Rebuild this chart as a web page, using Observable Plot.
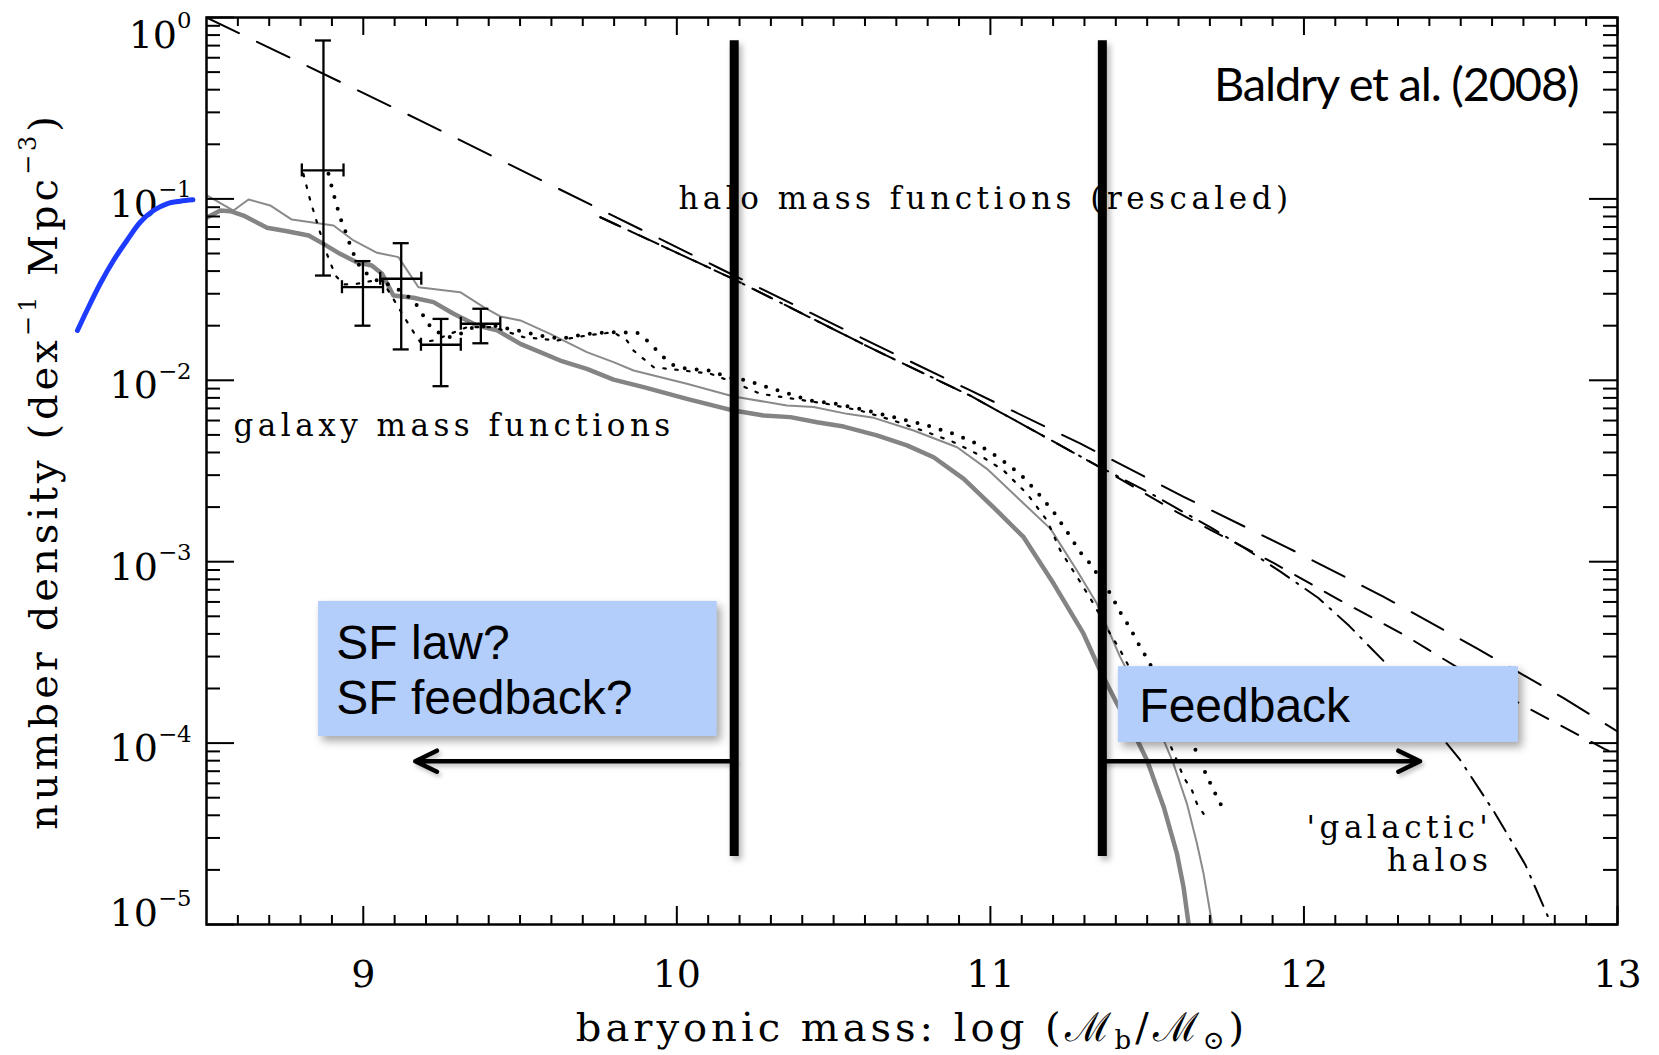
<!DOCTYPE html>
<html>
<head>
<meta charset="utf-8">
<script src="https://cdn.jsdelivr.net/npm/d3@7"></script>
<script src="https://cdn.jsdelivr.net/npm/@observablehq/plot@0.6"></script>
<style>
  html, body { margin: 0; padding: 0; background: #fff; }
  #chart { width: 1659px; height: 1055px; }
</style>
</head>
<body>
<div id="chart"></div>
<script>
// ---------- axes ----------
const xMajorTicks = [9, 10, 11, 12, 13];
const xMinorTicks = d3.range(86, 130).filter(v => v % 10 !== 0).map(v => v / 10);
const yMajorTicks = [1, 1e-1, 1e-2, 1e-3, 1e-4, 1e-5];
const yMinorTicks = [-5, -4, -3, -2, -1].flatMap(e => [2, 3, 4, 5, 6, 7, 8, 9].map(k => k * 10 ** e));
const xTitle = "baryonic mass: log (ℳ_{b}/ℳ_{⊙})";
const yTitle = "number density (dex^{−1} Mpc^{−3})";

// ---------- galaxy mass functions (log M, log phi) ----------
const thickLogM = [8.500, 8.544, 8.576, 8.618, 8.693, 8.757, 8.826, 8.873, 8.926, 8.979, 9.027, 9.060, 9.096, 9.160, 9.224, 9.288, 9.363, 9.427, 9.501, 9.628, 9.713, 9.798, 9.894, 10.032, 10.181, 10.277, 10.362, 10.447, 10.532, 10.638, 10.734, 10.819, 10.915, 11.010, 11.106, 11.202, 11.297, 11.350, 11.397, 11.470, 11.500, 11.553, 11.595, 11.616, 11.632];
const thickLogPhi = [-1.104, -1.064, -1.068, -1.092, -1.159, -1.178, -1.202, -1.248, -1.303, -1.349, -1.367, -1.413, -1.533, -1.545, -1.569, -1.633, -1.698, -1.725, -1.799, -1.891, -1.937, -1.996, -2.038, -2.102, -2.167, -2.194, -2.203, -2.231, -2.255, -2.304, -2.359, -2.424, -2.543, -2.700, -2.865, -3.122, -3.397, -3.600, -3.760, -3.990, -4.096, -4.353, -4.610, -4.794, -4.996];

const thinLogM = [8.501, 8.586, 8.634, 8.703, 8.772, 8.905, 8.969, 9.044, 9.112, 9.176, 9.309, 9.384, 9.437, 9.501, 9.596, 9.713, 9.798, 9.862, 10.032, 10.181, 10.351, 10.436, 10.543, 10.628, 10.755, 10.894, 10.989, 11.096, 11.192, 11.276, 11.340, 11.414, 11.557, 11.584, 11.627, 11.659, 11.680, 11.707];
const thinLogPhi = [-0.981, -1.064, -1.003, -1.036, -1.114, -1.147, -1.229, -1.297, -1.321, -1.487, -1.514, -1.597, -1.648, -1.670, -1.744, -1.845, -1.900, -1.946, -2.019, -2.089, -2.139, -2.147, -2.185, -2.207, -2.277, -2.369, -2.488, -2.663, -2.819, -3.049, -3.232, -3.526, -4.001, -4.114, -4.335, -4.555, -4.721, -4.996];

const bigDotLogM = [8.889, 8.905, 8.926, 8.942, 8.964, 8.990, 9.017, 9.044, 9.075, 9.118, 9.160, 9.182, 9.203, 9.224, 9.277, 9.309, 9.352, 9.415, 9.490, 9.564, 9.628, 9.713, 9.788, 9.873, 9.905, 9.931, 9.958, 9.990, 10.032, 10.107, 10.160, 10.224, 10.266, 10.341, 10.426, 10.511, 10.607, 10.691, 10.798, 10.883, 10.957, 11.032, 11.096, 11.149, 11.202, 11.245, 11.287, 11.319, 11.383, 11.420, 11.441, 11.478, 11.500, 11.648, 11.680, 11.712, 11.750];
const bigDotLogPhi = [-0.862, -0.972, -1.101, -1.174, -1.284, -1.377, -1.422, -1.450, -1.468, -1.505, -1.560, -1.615, -1.680, -1.725, -1.762, -1.744, -1.707, -1.698, -1.725, -1.753, -1.771, -1.744, -1.735, -1.737, -1.781, -1.826, -1.873, -1.918, -1.937, -1.946, -1.983, -2.001, -2.026, -2.066, -2.111, -2.130, -2.167, -2.203, -2.249, -2.295, -2.350, -2.433, -2.519, -2.616, -2.726, -2.836, -2.948, -3.012, -3.177, -3.297, -3.352, -3.471, -3.535, -4.013, -4.142, -4.261, -4.390];

const smallDotLogM = [8.809, 8.831, 8.857, 8.884, 8.911, 8.937, 8.980, 9.033, 9.059, 9.086, 9.118, 9.150, 9.182, 9.224, 9.277, 9.331, 9.415, 9.511, 9.618, 9.713, 9.798, 9.841, 9.862, 9.894, 9.926, 10.001, 10.107, 10.181, 10.266, 10.372, 10.479, 10.585, 10.691, 10.798, 10.883, 10.968, 11.042, 11.117, 11.181, 11.223, 11.287, 11.329, 11.388, 11.409, 11.574, 11.595, 11.616, 11.643, 11.659, 11.680];
const smallDotLogPhi = [-0.862, -1.009, -1.156, -1.303, -1.422, -1.472, -1.468, -1.450, -1.450, -1.523, -1.615, -1.707, -1.790, -1.781, -1.744, -1.707, -1.707, -1.762, -1.781, -1.753, -1.735, -1.781, -1.836, -1.882, -1.928, -1.942, -1.964, -2.011, -2.074, -2.102, -2.130, -2.167, -2.222, -2.286, -2.341, -2.415, -2.497, -2.626, -2.773, -2.938, -3.113, -3.232, -3.416, -3.471, -4.013, -4.096, -4.188, -4.261, -4.335, -4.390];

// ---------- data points with error bars ----------
const errLogM = [8.873, 8.999, 9.121, 9.248, 9.375];
const errLogMLo = [8.804, 8.932, 9.054, 9.184, 9.311];
const errLogMHi = [8.937, 9.063, 9.185, 9.311, 9.437];
const errPhi = [0.1435, 0.0326, 0.0363, 0.0157, 0.0205];
const errPhiLo = [0.0378, 0.0200, 0.0148, 0.00928, 0.0160];
const errPhiHi = [0.747, 0.0454, 0.0570, 0.0218, 0.0248];

// ---------- halo mass functions (rescaled) ----------
const haloALogM = [8.5, 9.182, 10.139, 10.628, 10.936, 11.286, 11.615, 11.947, 12.253, 12.553, 12.827, 13.0];
const haloALogPhi = [0, -0.568, -1.385, -1.799, -2.056, -2.348, -2.641, -2.922, -3.192, -3.479, -3.751, -3.936];
const haloBLogM = [9.756, 10.183, 10.628, 10.936, 11.340, 11.595, 11.903, 12.112, 12.320, 12.530, 12.717, 12.958, 13.0];
const haloBLogPhi = [-1.101, -1.444, -1.830, -2.085, -2.470, -2.727, -3.007, -3.210, -3.404, -3.626, -3.809, -4.032, -4.063];
const haloCLogM = [9.756, 10.183, 10.628, 10.936, 11.340, 11.507, 11.705, 11.815, 11.925, 12.046, 12.145, 12.255, 12.387, 12.497, 12.607, 12.706, 12.794];
const haloCLogPhi = [-1.101, -1.444, -1.830, -2.085, -2.470, -2.620, -2.814, -2.929, -3.055, -3.200, -3.355, -3.549, -3.858, -4.090, -4.380, -4.670, -5.019];

// ---------- blue extension curve (left of the frame) ----------
const blueLogM = [8.0885, 8.1185, 8.1609, 8.2033, 8.2461, 8.2885, 8.3309, 8.3737, 8.4161, 8.4566];
const blueLogPhi = [-1.7255, -1.6152, -1.468, -1.3396, -1.2293, -1.1285, -1.0639, -1.027, -1.0127, -1.005];

// ---------- annotations ----------
const vlineLogM = [10.183, 11.357];
const vlineTop = [0.745, 0.745];
const vlineBottom = [2.37e-5, 2.37e-5];
const arrowFrom = [10.183, 11.357];
const arrowTo = [9.166, 12.37];
const arrowPhi = [7.95e-5, 7.95e-5];
const boxX1 = [8.857, 11.408];
const boxX2 = [10.129, 12.684];
const boxTop = [6.04e-4, 2.64e-4];
const boxBottom = [1.087e-4, 1.008e-4];
const boxText = ["SF law?\nSF feedback?", "Feedback"];
const boxTextX = [8.914, 11.475];
const boxTextPhi = [1.438e-4, 1.30e-4];
const labelText = ["halo mass functions (rescaled)", "galaxy mass functions"];
const labelX = [10.005, 8.586];
const labelPhi = [0.0885, 0.00496];
const halosText = ["'galactic'\nhalos"];
const halosX = [12.601];
const halosPhi = [1.96e-5];
const refText = ["Baldry et al. (2008)"];
const refX = [12.875];
const refPhi = [0.3486];

// ---------- build tables ----------
const series = (ms, ls) => ms.map((m, i) => ({m, phi: 10 ** ls[i]}));
const thick = series(thickLogM, thickLogPhi);
const thin = series(thinLogM, thinLogPhi);
const bigDot = series(bigDotLogM, bigDotLogPhi);
const smallDot = series(smallDotLogM, smallDotLogPhi);
const haloA = series(haloALogM, haloALogPhi);
const haloB = series(haloBLogM, haloBLogPhi);
const haloC = series(haloCLogM, haloCLogPhi);
const blue = series(blueLogM, blueLogPhi);
const errs = errLogM.map((m, i) => ({m, lo: errLogMLo[i], hi: errLogMHi[i], phi: errPhi[i], plo: errPhiLo[i], phi2: errPhiHi[i]}));
const vlines = vlineLogM.map((m, i) => ({m, y1: vlineBottom[i], y2: vlineTop[i]}));
const arrows = arrowFrom.map((m, i) => ({x1: m, x2: arrowTo[i], y: arrowPhi[i]}));
const boxes = boxX1.map((x1, i) => ({x1, x2: boxX2[i], y1: boxBottom[i], y2: boxTop[i]}));
const boxLabels = boxText.map((t, i) => ({t, x: boxTextX[i], y: boxTextPhi[i]}));
const labels = labelText.map((t, i) => ({t, x: labelX[i], y: labelPhi[i]}));
const halosLab = halosText.map((t, i) => ({t, x: halosX[i], y: halosPhi[i]}));
const refLab = refText.map((t, i) => ({t, x: refX[i], y: refPhi[i]}));

const W = 1659, H = 1055;
const M = {top: 17, right: 42, bottom: 131, left: 206};
const frameW = W - M.left - M.right;
const frameH = H - M.top - M.bottom;
const SERIF = "DejaVu Serif";
const SANS = "Liberation Sans";
const expFmt = d => {
  const e = Math.round(Math.log10(d));
  return "10^{" + (e < 0 ? "−" + (-e) : String(e)) + "}";
};
const yAxisOpts = {anchor: "left", tickSize: 0, tickPadding: 15, fontSize: 38, fontFamily: SERIF, label: null, tickFormat: expFmt};

const plot = Plot.plot({
  width: W, height: H,
  marginTop: M.top, marginRight: M.right, marginBottom: M.bottom, marginLeft: M.left,
  x: {domain: [8.5, 13]},
  y: {type: "log", domain: [1e-5, 1]},
  style: {background: "white", color: "black"},
  marks: [
    // halo mass functions
    Plot.line(haloA, {x: "m", y: "phi", stroke: "black", strokeWidth: 2, strokeDasharray: "36 20", clip: true}),
    Plot.line(haloB, {x: "m", y: "phi", stroke: "black", strokeWidth: 2, strokeDasharray: "19 15", clip: true}),
    Plot.line(haloC, {x: "m", y: "phi", stroke: "black", strokeWidth: 2, strokeDasharray: "22 9 2 9", clip: true}),
    // galaxy mass functions
    Plot.line(thin, {x: "m", y: "phi", stroke: "#8a8a8a", strokeWidth: 2, strokeLinejoin: "round", clip: true}),
    Plot.line(thick, {x: "m", y: "phi", stroke: "#848484", strokeWidth: 4.5, strokeLinejoin: "round", clip: true}),
    Plot.line(smallDot, {x: "m", y: "phi", stroke: "black", strokeWidth: 2.2, strokeDasharray: "2.5 9.5", clip: true}),
    Plot.line(bigDot, {x: "m", y: "phi", stroke: "black", strokeWidth: 4, strokeDasharray: "0 12", strokeLinecap: "round", clip: true}),
    // error bars
    Plot.ruleX(errs, {x: "m", y1: "plo", y2: "phi2", stroke: "black", strokeWidth: 2.3}),
    Plot.ruleY(errs, {y: "phi", x1: "lo", x2: "hi", stroke: "black", strokeWidth: 2.3}),
    Plot.ruleY(errs, {y: "plo", x1: "m", x2: "m", insetLeft: -8, insetRight: -8, stroke: "black", strokeWidth: 2.3}),
    Plot.ruleY(errs, {y: "phi2", x1: "m", x2: "m", insetLeft: -8, insetRight: -8, stroke: "black", strokeWidth: 2.3}),
    Plot.ruleX(errs, {x: "lo", y1: "phi", y2: "phi", insetTop: -6.5, insetBottom: -6.5, stroke: "black", strokeWidth: 2.3}),
    Plot.ruleX(errs, {x: "hi", y1: "phi", y2: "phi", insetTop: -6.5, insetBottom: -6.5, stroke: "black", strokeWidth: 2.3}),
    // frame & inward ticks
    Plot.frame({stroke: "black", strokeWidth: 2.5}),
    Plot.ruleX(xMajorTicks, {x: d => d, insetTop: frameH - 18, stroke: "black", strokeWidth: 2}),
    Plot.ruleX(xMinorTicks, {x: d => d, insetTop: frameH - 9, stroke: "black", strokeWidth: 2}),
    Plot.ruleX(xMajorTicks, {x: d => d, insetBottom: frameH - 18, stroke: "black", strokeWidth: 2}),
    Plot.ruleX(xMinorTicks, {x: d => d, insetBottom: frameH - 9, stroke: "black", strokeWidth: 2}),
    Plot.ruleY(yMajorTicks, {y: d => d, insetRight: frameW - 28, stroke: "black", strokeWidth: 2}),
    Plot.ruleY(yMinorTicks, {y: d => d, insetRight: frameW - 14, stroke: "black", strokeWidth: 2}),
    Plot.ruleY(yMajorTicks, {y: d => d, insetLeft: frameW - 28, stroke: "black", strokeWidth: 2}),
    Plot.ruleY(yMinorTicks, {y: d => d, insetLeft: frameW - 14, stroke: "black", strokeWidth: 2}),
    // tick labels
    Plot.axisX(xMajorTicks, {anchor: "bottom", tickSize: 0, tickPadding: 36, fontSize: 38, fontFamily: SERIF, label: null, tickFormat: d => String(d)}),
    Plot.axisY(yMajorTicks.slice(1, 5), {...yAxisOpts, dy: 6}),
    Plot.axisY([1], {...yAxisOpts, dy: 18}),
    Plot.axisY([1e-5], {...yAxisOpts, dy: -11}),
    // axis titles
    Plot.text([xTitle], {text: d => d, frameAnchor: "bottom", dy: 116, lineAnchor: "bottom", textAnchor: "middle", fontSize: 40, fontFamily: SERIF, ariaDescription: "axis-title"}),
    Plot.text([yTitle], {text: d => d, frameAnchor: "left", dx: -150, rotate: -90, lineAnchor: "bottom", textAnchor: "middle", fontSize: 40, fontFamily: SERIF, ariaDescription: "axis-title"}),
    // in-plot labels
    Plot.text(labels, {x: "x", y: "y", text: "t", textAnchor: "start", lineAnchor: "bottom", fontSize: 31, fontFamily: SERIF, ariaDescription: "annot"}),
    Plot.text(halosLab, {x: "x", y: "y", text: "t", textAnchor: "end", lineAnchor: "bottom", lineHeight: 1.07, fontSize: 31, fontFamily: SERIF, ariaDescription: "annot"}),
    Plot.text(refLab, {x: "x", y: "y", text: "t", textAnchor: "end", lineAnchor: "bottom", fontSize: 47, fontFamily: "Lato", ariaDescription: "ref"}),
    // boxes
    Plot.rect(boxes, {x1: "x1", x2: "x2", y1: "y1", y2: "y2", fill: "#b3cefb", ariaDescription: "shadow-box"}),
    Plot.text(boxLabels, {x: "x", y: "y", text: "t", textAnchor: "start", lineAnchor: "bottom", lineHeight: 1.146, fontSize: 48, fontFamily: SANS}),
    // vertical markers & arrows
    Plot.ruleX(vlines, {x: "m", y1: "y1", y2: "y2", stroke: "black", strokeWidth: 9, ariaDescription: "shadow-line"}),
    Plot.arrow(arrows, {x1: "x1", x2: "x2", y1: "y", y2: "y", stroke: "black", strokeWidth: 4.5, headLength: 8, headAngle: 52, strokeLinecap: "round", strokeLinejoin: "round", ariaDescription: "shadow-arrow"}),
    // blue extension curve
    Plot.line(blue, {x: "m", y: "phi", stroke: "#1e3cff", strokeWidth: 5, curve: "catmull-rom", strokeLinecap: "round"})
  ]
});

document.getElementById("chart").append(plot);

// superscripts / subscripts as real text
function richText(root) {
  root.querySelectorAll("text").forEach(t => {
    const s = t.textContent;
    if (!/[\^_]\{/.test(s)) return;
    const size = parseFloat(getComputedStyle(t).fontSize) || 16;
    const re = /([\^_])\{([^}]*)\}/g;
    const parts = [];
    let last = 0, m;
    while ((m = re.exec(s))) {
      if (m.index > last) parts.push({text: s.slice(last, m.index), kind: ""});
      parts.push({text: m[2], kind: m[1]});
      last = re.lastIndex;
    }
    if (last < s.length) parts.push({text: s.slice(last), kind: ""});
    t.textContent = "";
    let shift = 0;
    for (const p of parts) {
      const ts = document.createElementNS("http://www.w3.org/2000/svg", "tspan");
      const target = p.kind === "^" ? -0.52 * size : p.kind === "_" ? 0.22 * size : 0;
      const d = target - shift;
      if (d) ts.setAttribute("dy", d.toFixed(2));
      shift = target;
      if (p.kind) ts.setAttribute("font-size", ((p.kind === "^" ? 0.6 : 0.65) * size).toFixed(1));
      ts.textContent = p.text;
      t.appendChild(ts);
    }
  });
}
richText(plot);

plot.querySelectorAll('[aria-description="axis-title"]').forEach(g => g.style.letterSpacing = "4px");
plot.querySelectorAll('[aria-description="annot"]').forEach(g => g.style.letterSpacing = "4.5px");
plot.querySelectorAll('[aria-description="ref"]').forEach(g => g.style.letterSpacing = "-1.2px");
plot.querySelectorAll('[aria-description="shadow-box"]').forEach(g => g.style.filter = "drop-shadow(4px 5px 4px rgba(0,0,0,0.35))");
plot.querySelectorAll('[aria-description="shadow-line"]').forEach(g => g.style.filter = "drop-shadow(3px 4px 3px rgba(0,0,0,0.3))");
plot.querySelectorAll('[aria-description="shadow-arrow"]').forEach(g => g.style.filter = "drop-shadow(2px 3px 2px rgba(0,0,0,0.25))");
</script>
</body>
</html>
